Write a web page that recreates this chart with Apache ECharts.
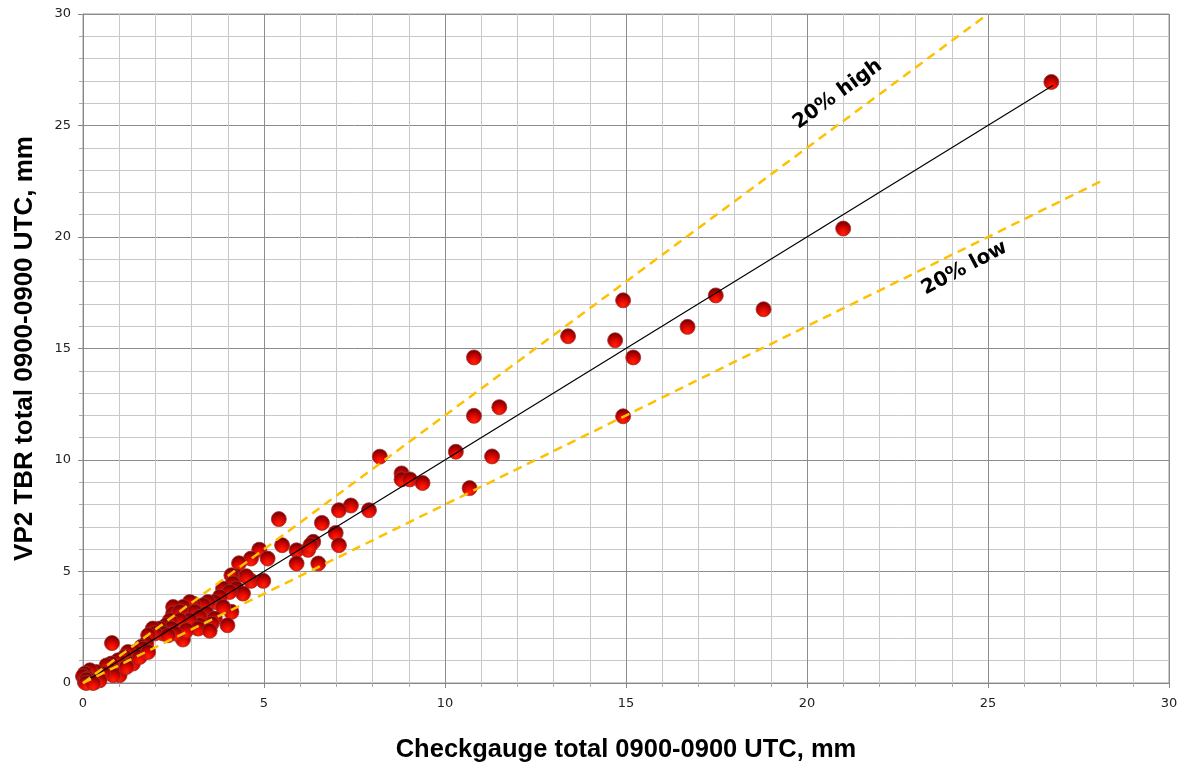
<!DOCTYPE html>
<html><head><meta charset="utf-8">
<script src="https://cdn.jsdelivr.net/npm/echarts@6/dist/echarts.min.js"></script>
<style>html,body{margin:0;padding:0;background:#fff}#c{width:1187px;height:769px}</style>
</head><body><div id="c"></div>
<script>
const xTitle = 'Checkgauge total 0900-0900 UTC, mm';
const yTitle = 'VP2 TBR total 0900-0900 UTC, mm';
const xTicks = [0,5,10,15,20,25,30];
const yTicks = [0,5,10,15,20,25,30];
// [checkgauge, VP2 TBR]
const points = [
 [26.75,26.95],[21.0,20.38],[18.8,16.76],[17.48,17.38],[16.7,15.97],[14.92,17.16],[14.7,15.37],[15.2,14.6],
 [14.92,11.96],[13.4,15.55],[10.8,14.6],[10.8,11.98],[11.5,12.37],[10.3,10.37],[11.3,10.16],[10.68,8.74],
 [8.2,10.15],[8.8,9.4],[8.8,9.13],[9.03,9.13],[9.38,8.97],
 [7.4,7.96],[7.07,7.75],[7.9,7.75],[6.6,7.18],[6.98,6.73],[7.07,6.18],[5.41,7.35],[4.87,5.98],[5.1,5.58],
 [5.5,6.18],[5.9,5.95],[6.22,5.97],[6.36,6.33],[6.28,6.18],[5.9,5.36],[6.5,5.36],[4.64,5.58],[4.31,5.37],
 [4.64,4.58],[4.98,4.58],[4.24,4.79],[4.51,4.79],[4.1,4.83],[4.14,4.46],[4.24,4.23],[4.42,4.01],[3.87,4.23],
 [4.05,4.08],[3.78,3.86],[3.64,3.63],[3.45,3.63],[3.32,3.49],[4.1,3.19],[3.87,3.41],[3.04,3.56],[2.95,3.63],
 [2.76,3.41],[2.49,3.41],[2.49,3.11],[2.67,3.19],[2.86,3.11],[3.09,3.19],[3.41,3.11],[3.64,2.89],[3.55,2.66],
 [3.22,2.96],[3.22,2.59],[2.95,2.81],[2.67,2.81],[2.4,2.81],[2.3,2.59],[2.44,2.44],[2.12,2.44],[1.93,2.44],
 [2.21,2.22],[1.98,2.22],[1.8,2.14],[2.76,2.14],[2.76,1.95],[3.99,2.59],[3.18,2.44],[2.86,2.36],[3.5,2.34],
 [1.75,1.77],[1.61,1.62],
 [0.8,1.79],[2.53,2.22],[2.35,2.14],[1.66,1.54],[1.43,1.39],[1.24,1.39],[1.15,1.17],[0.97,1.02],[0.78,0.87],
 [0.65,0.79],[1.01,0.35],[0.83,0.35],[0.55,0.42],[0.37,0.49],[0.19,0.57],[0.05,0.42],[0,0.3],[0.14,0.2],
 [0.32,0.04],[0.05,0.04],[0.46,0.12],[1.38,0.87],[1.57,1.17],[1.8,1.39],[1.2,0.72],[0.2,0.1],[0.1,0.15],
 [0.09,0.0],[0.28,0.0]
];
const oneToOne = [[0,0],[26.8,26.8]];
const high20 = [[0,0],[25,30]];
const low20 = [[0,0],[28.2,22.56]];
const labelHigh = ['20% high', 20.85, 26.4];
const labelLow = ['20% low', 24.35, 18.6];

const chart = echarts.init(document.getElementById('c'), null, {renderer:'canvas'});
const ballColor = {type:'radial', x:0.5, y:0.8, r:0.8, colorStops:[
  {offset:0, color:'#ff2200'},{offset:0.35, color:'#e80800'},{offset:0.75, color:'#9a0000'},{offset:1, color:'#5e0000'}]};
const axisCommon = {
  min:0, max:30, interval:5,
  axisLine:{show:true, lineStyle:{color:'#888', width:1}},
  axisTick:{show:true, length:5, lineStyle:{color:'#888'}},
  minorTick:{show:true, splitNumber:5, length:4, lineStyle:{color:'#aaa'}},
  splitLine:{show:true, lineStyle:{color:'#8c8c8c', width:1}},
  minorSplitLine:{show:true, lineStyle:{color:'#c8c8c8', width:1}},
  axisLabel:{color:'#222', fontSize:13, fontFamily:'DejaVu Sans'},
  nameLocation:'middle'
};
chart.setOption({
  animation:false,
  backgroundColor:'#fff',
  grid:{left:83, right:18, top:14, bottom:86, show:true, borderColor:'#999', borderWidth:1,
        containLabel:false, outerBoundsMode:'none'},
  xAxis:Object.assign({}, axisCommon, {type:'value', name:xTitle, nameGap:54,
    nameTextStyle:{color:'#000', fontSize:25.5, fontWeight:'bold', fontFamily:'Liberation Sans'},
    axisLabel:Object.assign({}, axisCommon.axisLabel, {margin:14, formatter:v=>xTicks.includes(v)?String(v):''})}),
  yAxis:Object.assign({}, axisCommon, {type:'value', name:yTitle, nameGap:45,
    nameTextStyle:{color:'#000', fontSize:26, fontWeight:'bold', fontFamily:'Liberation Sans'},
    axisLabel:Object.assign({}, axisCommon.axisLabel, {margin:12, formatter:v=>yTicks.includes(v)?String(v):''})}),
  series:[
    {type:'scatter', data:points, symbolSize:15, z:2,
     itemStyle:{color:ballColor, opacity:1, borderColor:'rgba(160,50,50,0.8)', borderWidth:1}},
    {type:'line', data:oneToOne, symbol:'none', z:4, lineStyle:{color:'#000', width:1.2}},
    {type:'line', data:high20, symbol:'none', z:4, lineStyle:{color:'#FFC000', width:2.5, type:[9,6]}},
    {type:'line', data:low20, symbol:'none', z:4, lineStyle:{color:'#FFC000', width:2.5, type:[9,6]}},
    {type:'scatter', symbolSize:0, z:5, silent:true, itemStyle:{color:'transparent', opacity:1},
     data:[{value:[labelHigh[1],labelHigh[2]], label:{formatter:labelHigh[0], rotate:36}},
           {value:[labelLow[1],labelLow[2]], label:{formatter:labelLow[0], rotate:28}}],
     label:{show:true, position:'inside', color:'#000', textBorderWidth:0, fontSize:20, fontWeight:'bold', fontFamily:'DejaVu Sans'}}
  ]
});
</script></body></html>
